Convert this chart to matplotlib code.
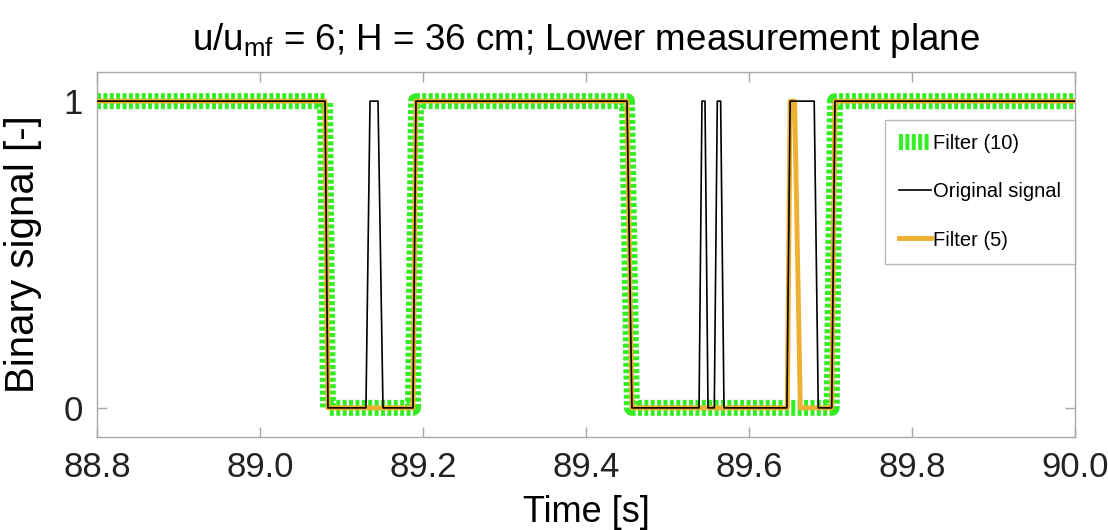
import matplotlib
matplotlib.use("Agg")
import matplotlib.pyplot as plt

plt.rcParams['font.family'] = ['Liberation Sans', 'DejaVu Sans']
plt.rcParams['mathtext.fontset'] = 'custom'
plt.rcParams['mathtext.rm'] = 'Liberation Sans'
plt.rcParams['mathtext.it'] = 'Liberation Sans'

# ---- data (corner points of the step signals) ----
t_filter10 = [88.8, 89.0798, 89.0834, 89.1877, 89.1914, 89.4503, 89.4564, 89.7015, 89.7055, 90.0]
v_filter10 = [1, 1, 0, 0, 1, 1, 0, 0, 1, 1]

t_original = [88.8, 89.0798, 89.0834, 89.1300, 89.1350, 89.1448, 89.1509, 89.1877, 89.1914,
              89.4503, 89.4564, 89.5387, 89.5423, 89.5460, 89.5497, 89.5574, 89.5611,
              89.5652, 89.5693, 89.6465, 89.6505, 89.6800, 89.6850, 89.7015, 89.7055, 90.0]
v_original = [1, 1, 0, 0, 1, 1, 0, 0, 1,
              1, 0, 0, 1, 1, 0, 0, 1,
              1, 0, 0, 1, 1, 0, 0, 1, 1]

t_filter5 = [88.8, 89.0798, 89.0834, 89.1877, 89.1914, 89.4503, 89.4564, 89.6470, 89.6505,
             89.6560, 89.6630, 89.7015, 89.7055, 90.0]
v_filter5 = [1, 1, 0, 0, 1, 1, 0, 0, 1,
             1, 0, 0, 1, 1]

x_ticks = [88.8, 89.0, 89.2, 89.4, 89.6, 89.8, 90.0]
x_ticklabels = ["88.8", "89.0", "89.2", "89.4", "89.6", "89.8", "90.0"]
y_ticks = [0, 1]
y_ticklabels = ["0", "1"]

title = r"u/u$_{\mathrm{mf}}$ = 6; H = 36 cm; Lower measurement plane"
xlabel = "Time [s]"
ylabel = "Binary signal [-]"
labels = ["Filter (10)", "Original signal", "Filter (5)"]

# ---- figure ----
fig = plt.figure(figsize=(11.08, 5.30), dpi=100)
ax = fig.add_axes([97/1108, 1-437/530, (1075-97)/1108, (437-72)/530])

green = "#33ee22"
orange = "#eeb030"
gray = "#a8a8a8"

ax.plot(t_filter10, v_filter10, color=green, lw=11.5, linestyle=(0, (0.25, 0.15)),
        dash_capstyle='butt', solid_joinstyle='miter', label=labels[0], zorder=2)
ax.plot(t_original, v_original, color="black", lw=1.2, label=labels[1], zorder=4)
ax.plot(t_filter5, v_filter5, color=orange, lw=3.5, label=labels[2], zorder=3)

ax.set_xlim(88.8, 90.0)
ax.set_ylim(-0.095, 1.095)
ax.set_xticks(x_ticks)
ax.set_xticklabels(x_ticklabels)
ax.set_yticks(y_ticks)
ax.set_yticklabels(y_ticklabels)

for s in ax.spines.values():
    s.set_color(gray)
    s.set_linewidth(1.0)
ax.tick_params(direction='in', length=7, width=1.0, color=gray, labelsize=25,
               top=True, right=True, labelcolor="#222222", pad=10)

ax.set_title(title, fontsize=26.5, pad=16)
ax.set_xlabel(xlabel, fontsize=26, labelpad=8)
ax.set_ylabel(ylabel, fontsize=29, labelpad=16)

leg = ax.legend(loc='upper right', bbox_to_anchor=(1.0, 317/365), borderaxespad=0,
                fancybox=False, frameon=True, fontsize=14.5, handlelength=1.6,
                handletextpad=0.1, labelspacing=1.45, borderpad=0.7)
leg.get_frame().set_edgecolor(gray)
leg.get_frame().set_linewidth(1.0)

fig.savefig("out.png", dpi=100)
